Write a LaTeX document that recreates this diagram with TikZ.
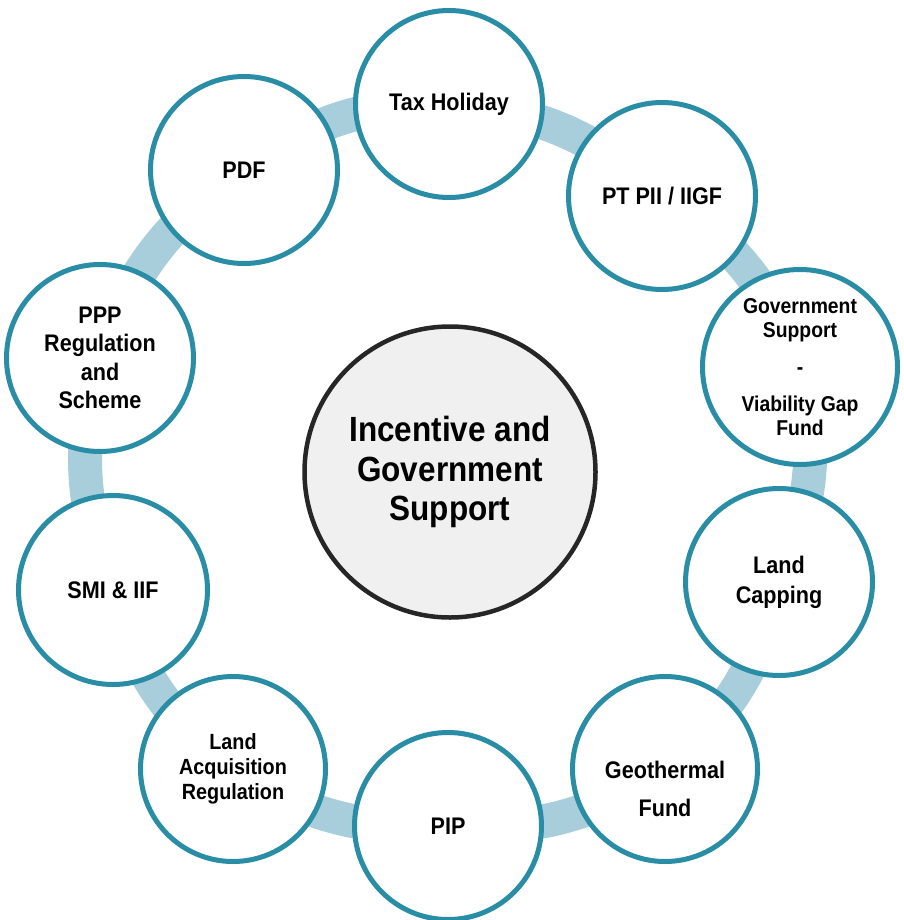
\documentclass[tikz,border=0pt]{standalone}
\usepackage{fontspec}
\setmainfont[FakeStretch=0.9]{Liberation Sans}
\definecolor{tealline}{RGB}{42,141,166}
\definecolor{ringblue}{RGB}{168,206,220}
\definecolor{hubfill}{RGB}{240,240,240}
\definecolor{hubline}{RGB}{38,38,38}
\pgfdeclarelayer{background}
\pgfsetlayers{background,main}
\begin{document}
\begin{tikzpicture}[x=1pt,y=1pt,
  item/.style={circle, draw=tealline, line width=5pt, fill=white, inner sep=0pt,
    minimum size=187pt, align=center, font=\bfseries\fontsize{24}{28.5}\selectfont},
  hub/.style={circle, draw=hubline, line width=4.5pt, fill=hubfill, inner sep=0pt,
    minimum size=291pt, align=center, font=\bfseries\fontsize{35}{39.5}\selectfont},
  ringseg/.style={draw=ringblue, line width=34pt}]
\useasboundingbox (0,0) rectangle (903,-920);

\node[item] (tax) at (449,-104) {Tax Holiday};
\node[item] (pt) at (662,-196) {PT PII / IIGF};
\node[item, minimum size=195pt, font=\bfseries\fontsize{21.5}{24}\selectfont] (gov) at (800,-367)
  {Government\\Support\\[13pt]-\\[13pt]Viability Gap\\Fund};
\node[item, font=\bfseries\fontsize{24}{30}\selectfont] (cap) at (779,-582) {Land\\Capping};
\node[item, minimum size=185pt] (geo) at (665,-769) {};
\node[align=center, font=\bfseries\fontsize{24}{38}\selectfont] (geotext) at (665,-789) {Geothermal\\Fund};
\node[item] (pip) at (448,-826) {PIP};
\node[item, minimum size=185pt, font=\bfseries\fontsize{22}{25}\selectfont] (acq) at (233,-769)
  {Land\\Acquisition\\Regulation};
\node[item, minimum size=189pt] (smi) at (113,-590) {SMI \& IIF};
\node[item] (ppp) at (100,-358) {PPP\\Regulation\\and\\Scheme};
\node[item] (pdf) at (244,-170) {PDF};
\node[hub] (hub) at (450,-472) {Incentive and\\Government\\Support};

\begin{pgfonlayer}{background}
  \fill[white] (0,0) rectangle (903,-920);
  \foreach \a/\b in {tax/pt, pt/gov, gov/cap, cap/geo, geo/pip, pip/acq, acq/smi, smi/ppp, ppp/pdf, pdf/tax}
    \draw[ringseg] (\a.center) to[bend left=18] (\b.center);
\end{pgfonlayer}
\end{tikzpicture}
\end{document}
